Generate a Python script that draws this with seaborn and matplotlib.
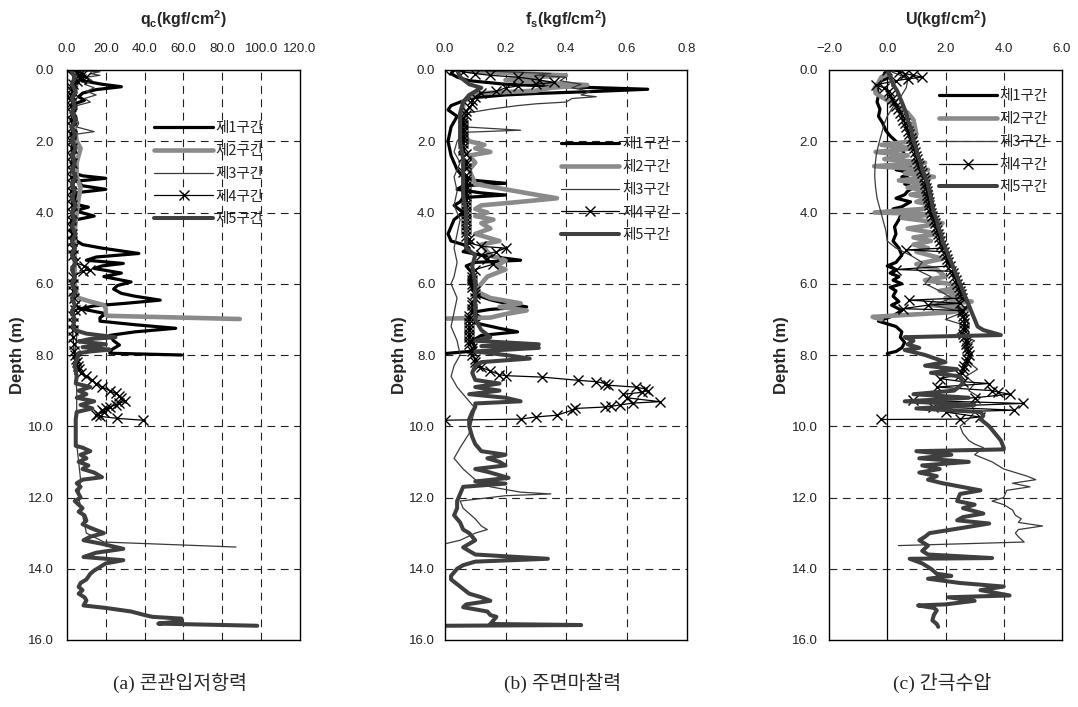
import matplotlib
matplotlib.use("Agg")
import matplotlib.pyplot as plt
from matplotlib.ticker import FuncFormatter, FixedLocator
import pandas as pd
import seaborn as sns

ZONES = ["제1구간", "제2구간", "제3구간", "제4구간", "제5구간"]

# ---------------- cone resistance qc (kgf/cm2): (depth m, value) ----------------
qc_zone1 = [(0.0, 0.5), (0.1, 3), (0.2, 4), (0.3, 8), (0.4, 18), (0.47, 28), (0.55, 15), (0.65, 8),
            (0.75, 6), (0.85, 9), (0.95, 4), (1.0, 2), (1.1, 4), (1.2, 2), (1.3, 4.5), (1.4, 2),
            (1.5, 4), (1.6, 2), (1.7, 4.5), (1.8, 2), (1.9, 4), (2.0, 2), (2.1, 4), (2.2, 2.5),
            (2.3, 4.5), (2.4, 2), (2.5, 4), (2.6, 2), (2.7, 4), (2.8, 2.5), (2.9, 4), (2.97, 8),
            (3.04, 20), (3.12, 5), (3.25, 8), (3.35, 20), (3.45, 4), (3.6, 5), (3.75, 3), (3.85, 11),
            (3.95, 4), (4.1, 14), (4.2, 5), (4.3, 2), (4.4, 4), (4.5, 2), (4.6, 4.5), (4.7, 2),
            (4.8, 5), (4.9, 8), (5.0, 18), (5.15, 37), (5.25, 15), (5.34, 10), (5.43, 29), (5.5, 18),
            (5.57, 14), (5.7, 28), (5.8, 19), (5.95, 33), (6.05, 26), (6.15, 24), (6.27, 28),
            (6.35, 35), (6.46, 48), (6.55, 30), (6.62, 14), (6.7, 7), (6.84, 20), (6.95, 17),
            (7.05, 17), (7.15, 35), (7.25, 56), (7.35, 35), (7.45, 22), (7.6, 24), (7.72, 27),
            (7.85, 23), (7.95, 22), (8.0, 59)]
qc_zone2 = [(0.0, 2), (0.1, 8), (0.2, 5), (0.3, 6), (0.5, 4), (0.8, 3), (1.2, 3.5), (1.6, 4),
            (2.0, 5), (2.2, 7), (2.4, 6), (2.6, 5), (3.0, 5), (3.3, 7), (3.6, 6), (4.0, 5), (4.5, 4),
            (5.0, 4), (5.5, 4), (6.0, 4), (6.3, 5), (6.4, 6), (6.5, 12), (6.6, 19), (6.7, 20),
            (6.85, 20), (6.9, 21), (6.99, 89)]
qc_zone3 = [(0.0, 1), (0.05, 17), (0.1, 12), (0.15, 17), (0.2, 10), (0.3, 13), (0.4, 9), (0.5, 14),
            (0.6, 10), (0.7, 15), (0.8, 9), (0.9, 12), (1.0, 5), (1.2, 4), (1.5, 6), (1.6, 5),
            (1.73, 14), (1.8, 5), (2.0, 4), (2.5, 4), (3.0, 3.5), (3.5, 4), (4.0, 3), (4.5, 3.5),
            (5.0, 3), (5.5, 4), (6.0, 3), (6.5, 4), (7.0, 3.5), (7.5, 5), (8.0, 4), (8.5, 4.5),
            (9.0, 5), (9.5, 5), (10.0, 4), (10.5, 5), (11.0, 6), (11.5, 7), (12.0, 6), (12.5, 8),
            (13.0, 10), (13.25, 19), (13.39, 87)]
qc_zone4 = [(0.0, 0), (0.05, 5), (0.1, 8), (0.15, 6), (0.2, 10), (0.25, 7), (0.3, 5), (0.4, 3),
            (0.5, 2.5), (0.6, 2.5), (0.7, 2), (0.8, 2), (0.9, 2.5), (1.0, 2), (1.2, 2.5), (1.4, 2),
            (1.6, 2.5), (1.8, 2), (2.0, 2), (2.2, 2.5), (2.4, 2), (2.6, 2.5), (2.8, 2), (3.0, 2),
            (3.2, 2.5), (3.4, 2), (3.6, 2), (3.8, 2.5), (4.0, 2.5), (4.2, 2), (4.4, 2), (4.6, 2.5),
            (4.8, 2.5), (5.0, 3), (5.2, 3), (5.4, 4), (5.5, 9), (5.6, 12), (5.65, 8), (5.8, 3),
            (6.0, 3), (6.2, 3), (6.4, 3.5), (6.6, 4), (6.7, 7), (6.75, 4), (6.9, 3), (7.1, 3),
            (7.3, 3), (7.5, 3), (7.7, 3.5), (7.9, 3.5), (8.0, 4), (8.1, 4.5), (8.2, 5), (8.3, 5.5),
            (8.4, 6), (8.5, 7), (8.6, 10), (8.7, 13), (8.8, 15), (8.9, 18), (9.0, 22), (9.08, 25),
            (9.15, 27), (9.2, 28), (9.3, 30), (9.35, 27), (9.4, 25), (9.46, 22), (9.5, 20),
            (9.55, 18), (9.6, 19), (9.65, 16), (9.69, 15), (9.72, 17), (9.78, 26), (9.83, 39)]
qc_zone5 = [(0.0, 2), (0.2, 4), (0.4, 2.5), (0.6, 4.5), (0.8, 2.5), (1.0, 4), (1.2, 2.5), (1.4, 4.5),
            (1.6, 2.5), (1.8, 4), (2.0, 2.5), (2.2, 4.5), (2.4, 2.5), (2.6, 4), (2.8, 2.5), (3.0, 4.5),
            (3.2, 2.5), (3.4, 4), (3.6, 2.5), (3.8, 4.5), (4.0, 2.5), (4.2, 4), (4.4, 2.5), (4.6, 4.5),
            (4.8, 2.5), (5.0, 4), (5.2, 2.5), (5.4, 4.5), (5.6, 2.5), (5.8, 4), (6.0, 2.5), (6.2, 4.5),
            (6.4, 2.5), (6.6, 4), (6.8, 2.5), (7.0, 4), (7.2, 3), (7.3, 4), (7.4, 10), (7.5, 25),
            (7.55, 12), (7.62, 6), (7.7, 20), (7.78, 8), (7.85, 22), (7.9, 12), (7.95, 6), (8.1, 5),
            (8.3, 4), (8.6, 5), (8.8, 4.5), (8.9, 12), (9.0, 6), (9.1, 10), (9.2, 5), (9.3, 14),
            (9.4, 7), (9.5, 13), (9.6, 5), (9.8, 4.5), (10.0, 4.5), (10.3, 4.5), (10.55, 4.5),
            (10.6, 8), (10.7, 12), (10.8, 7), (10.9, 10), (11.0, 6), (11.1, 11), (11.2, 8),
            (11.3, 14), (11.43, 18), (11.5, 8), (11.6, 5), (11.7, 7), (11.8, 5), (12.0, 7),
            (12.1, 4), (12.2, 6), (12.3, 8), (12.4, 6), (12.5, 9), (12.65, 10), (12.75, 8),
            (12.85, 12), (13.0, 19), (13.1, 12), (13.2, 8.5), (13.3, 18), (13.44, 29), (13.55, 15),
            (13.67, 8.5), (13.76, 29), (13.85, 20), (13.95, 17), (14.05, 14), (14.14, 12),
            (14.3, 10), (14.4, 7), (14.51, 6), (14.6, 8), (14.7, 6), (14.8, 9), (14.89, 10),
            (15.03, 8.5), (15.1, 20), (15.2, 33), (15.3, 40), (15.35, 44), (15.4, 59), (15.47, 59),
            (15.54, 47), (15.6, 98)]

# ---------------- sleeve friction fs (kgf/cm2) ----------------
fs_zone1 = [(0.0, 0.03), (0.1, 0.02), (0.2, 0.04), (0.3, 0.08), (0.4, 0.2), (0.47, 0.4), (0.54, 0.67),
            (0.6, 0.5), (0.66, 0.3), (0.7, 0.2), (0.78, 0.09), (0.9, 0.05), (1.0, 0.02), (1.12, 0.01),
            (1.3, 0.04), (1.6, 0.02), (2.0, 0.01), (2.4, 0.02), (2.8, 0.04), (3.0, 0.06), (3.1, 0.1),
            (3.18, 0.2), (3.25, 0.06), (3.35, 0.04), (3.45, 0.12), (3.51, 0.2), (3.58, 0.06),
            (3.7, 0.05), (3.8, 0.03), (4.0, 0.06), (4.2, 0.03), (4.4, 0.02), (4.6, 0.01), (4.8, 0.02),
            (4.9, 0.06), (5.0, 0.08), (5.1, 0.06), (5.2, 0.12), (5.34, 0.25), (5.4, 0.1), (5.5, 0.07),
            (5.7, 0.09), (5.9, 0.08), (6.1, 0.09), (6.3, 0.1), (6.45, 0.15), (6.55, 0.2), (6.65, 0.27),
            (6.72, 0.15), (6.8, 0.09), (6.95, 0.12), (7.1, 0.1), (7.25, 0.18), (7.35, 0.24),
            (7.45, 0.12), (7.6, 0.09), (7.8, 0.1), (7.9, 0.08), (7.96, 0.0)]
fs_zone2 = [(0.0, 0.05), (0.05, 0.1), (0.1, 0.25), (0.15, 0.4), (0.2, 0.3), (0.28, 0.2), (0.35, 0.3),
            (0.42, 0.47), (0.5, 0.35), (0.58, 0.3), (0.65, 0.12), (0.75, 0.08), (0.9, 0.06),
            (1.2, 0.06), (1.5, 0.07), (1.8, 0.06), (2.0, 0.08), (2.1, 0.13), (2.2, 0.1), (2.3, 0.15),
            (2.4, 0.08), (2.6, 0.1), (2.8, 0.08), (3.0, 0.09), (3.2, 0.1), (3.35, 0.2), (3.5, 0.3),
            (3.6, 0.37), (3.7, 0.25), (3.8, 0.12), (3.9, 0.1), (4.0, 0.14), (4.1, 0.1), (4.2, 0.16),
            (4.3, 0.12), (4.45, 0.15), (4.6, 0.1), (4.8, 0.18), (4.9, 0.12), (5.0, 0.13), (5.2, 0.15),
            (5.35, 0.2), (5.5, 0.17), (5.6, 0.2), (5.8, 0.14), (6.0, 0.12), (6.2, 0.1), (6.4, 0.15),
            (6.55, 0.25), (6.65, 0.18), (6.75, 0.27), (6.85, 0.2), (6.95, 0.15), (6.98, 0.0)]
fs_zone3 = [(0.0, 0.05), (0.05, 0.2), (0.1, 0.35), (0.15, 0.3), (0.2, 0.4), (0.3, 0.38), (0.4, 0.45),
            (0.5, 0.42), (0.6, 0.48), (0.7, 0.45), (0.75, 0.5), (0.8, 0.42), (0.9, 0.4), (0.95, 0.3),
            (1.0, 0.24), (1.1, 0.15), (1.2, 0.08), (1.4, 0.06), (1.6, 0.07), (1.69, 0.25), (1.75, 0.06),
            (2.0, 0.04), (2.3, 0.03), (2.6, 0.05), (3.0, 0.03), (3.4, 0.04), (3.8, 0.03), (4.2, 0.05),
            (4.6, 0.04), (5.0, 0.03), (5.4, 0.04), (5.8, 0.03), (6.0, 0.02), (6.4, 0.04), (6.8, 0.03),
            (7.2, 0.02), (7.6, 0.04), (8.0, 0.05), (8.3, 0.03), (8.6, 0.02), (8.9, 0.04), (9.2, 0.07),
            (9.5, 0.1), (9.8, 0.09), (10.2, 0.08), (10.6, 0.05), (10.9, 0.03), (11.2, 0.06),
            (11.5, 0.1), (11.7, 0.15), (11.85, 0.25), (11.9, 0.35), (11.95, 0.2), (12.1, 0.05),
            (12.3, 0.06), (12.6, 0.1), (12.8, 0.12), (12.9, 0.14), (13.0, 0.1), (13.2, 0.05),
            (13.3, 0.0)]
fs_zone4 = [(0.0, 0.0), (0.05, 0.06), (0.1, 0.1), (0.15, 0.15), (0.2, 0.24), (0.28, 0.31), (0.35, 0.36),
            (0.4, 0.3), (0.45, 0.24), (0.5, 0.2), (0.6, 0.17), (0.65, 0.12), (0.75, 0.1), (0.85, 0.09),
            (0.95, 0.09), (1.05, 0.08), (1.15, 0.07), (1.25, 0.07), (1.35, 0.06), (1.45, 0.06),
            (1.55, 0.06), (1.65, 0.06), (1.75, 0.06), (1.85, 0.06), (1.95, 0.06), (2.05, 0.06),
            (2.15, 0.06), (2.25, 0.06), (2.35, 0.07), (2.45, 0.06), (2.55, 0.07), (2.65, 0.07),
            (2.75, 0.07), (2.85, 0.06), (2.95, 0.07), (3.05, 0.07), (3.15, 0.07), (3.25, 0.07),
            (3.35, 0.07), (3.45, 0.07), (3.55, 0.07), (3.65, 0.07), (3.75, 0.07), (3.85, 0.07),
            (3.95, 0.07), (4.05, 0.07), (4.15, 0.07), (4.25, 0.07), (4.35, 0.07), (4.45, 0.07),
            (4.55, 0.07), (4.65, 0.07), (4.75, 0.08), (4.85, 0.08), (4.95, 0.12), (5.0, 0.2),
            (5.1, 0.17), (5.2, 0.12), (5.3, 0.14), (5.45, 0.16), (5.6, 0.1), (5.7, 0.09), (5.8, 0.09),
            (5.9, 0.09), (6.0, 0.09), (6.1, 0.09), (6.2, 0.1), (6.3, 0.1), (6.4, 0.1), (6.5, 0.09),
            (6.6, 0.09), (6.7, 0.09), (6.8, 0.09), (6.9, 0.08), (7.0, 0.08), (7.1, 0.08), (7.2, 0.08),
            (7.3, 0.08), (7.4, 0.08), (7.5, 0.08), (7.6, 0.08), (7.7, 0.08), (7.8, 0.09), (7.9, 0.09),
            (8.0, 0.09), (8.1, 0.1), (8.2, 0.1), (8.3, 0.11), (8.35, 0.12), (8.45, 0.15), (8.55, 0.18),
            (8.58, 0.2), (8.62, 0.32), (8.71, 0.44), (8.75, 0.5), (8.8, 0.53), (8.85, 0.54),
            (8.9, 0.63), (8.95, 0.66), (9.0, 0.67), (9.05, 0.65), (9.1, 0.59), (9.2, 0.6),
            (9.31, 0.71), (9.35, 0.62), (9.4, 0.58), (9.44, 0.55), (9.46, 0.53), (9.5, 0.43),
            (9.55, 0.42), (9.69, 0.37), (9.74, 0.3), (9.8, 0.25), (9.83, 0.0)]
fs_zone5 = [(0.0, 0.04), (0.2, 0.05), (0.4, 0.08), (0.5, 0.12), (0.6, 0.1), (0.7, 0.08), (0.9, 0.06),
            (1.2, 0.05), (1.6, 0.05), (2.0, 0.05), (2.5, 0.06), (3.0, 0.06), (3.5, 0.06), (4.0, 0.07),
            (4.5, 0.07), (5.0, 0.07), (5.2, 0.1), (5.5, 0.09), (6.0, 0.1), (6.5, 0.1), (7.0, 0.1),
            (7.3, 0.12), (7.5, 0.15), (7.6, 0.1), (7.7, 0.31), (7.75, 0.12), (7.8, 0.31), (7.9, 0.1),
            (8.0, 0.2), (8.1, 0.28), (8.2, 0.12), (8.3, 0.1), (8.5, 0.09), (8.7, 0.1), (8.8, 0.18),
            (8.9, 0.1), (9.0, 0.18), (9.1, 0.08), (9.2, 0.2), (9.3, 0.25), (9.36, 0.1), (9.46, 0.1),
            (9.6, 0.09), (9.8, 0.08), (10.0, 0.08), (10.3, 0.09), (10.5, 0.1), (10.7, 0.12),
            (10.8, 0.2), (10.9, 0.14), (11.0, 0.18), (11.1, 0.2), (11.2, 0.1), (11.3, 0.15),
            (11.45, 0.21), (11.55, 0.1), (11.61, 0.2), (11.7, 0.06), (11.9, 0.05), (12.1, 0.04),
            (12.3, 0.04), (12.5, 0.03), (12.7, 0.05), (12.9, 0.06), (13.0, 0.08), (13.2, 0.1),
            (13.4, 0.06), (13.6, 0.1), (13.72, 0.34), (13.8, 0.1), (13.9, 0.06), (14.0, 0.04),
            (14.2, 0.02), (14.3, 0.02), (14.5, 0.05), (14.7, 0.08), (14.8, 0.12), (14.9, 0.15),
            (15.0, 0.07), (15.08, 0.06), (15.2, 0.14), (15.3, 0.15), (15.35, 0.17), (15.55, 0.15),
            (15.58, 0.45), (15.6, 0.0)]

# ---------------- pore pressure U (kgf/cm2) ----------------
u_zone1 = [(0.0, 0.0), (0.1, -0.1), (0.2, 0.1), (0.3, -0.2), (0.5, -0.35), (0.7, -0.3), (0.9, -0.35),
           (1.1, -0.25), (1.3, -0.3), (1.5, -0.15), (1.7, -0.05), (1.85, 0.1), (2.0, 0.3), (2.2, 0.5),
           (2.4, 0.6), (2.6, 0.4), (2.7, 0.8), (2.8, 0.3), (2.9, 0.9), (3.0, 0.5), (3.1, 1.0),
           (3.2, 0.6), (3.3, 0.9), (3.4, 0.7), (3.5, 0.6), (3.6, 0.3), (3.7, 0.8), (3.84, 0.5),
           (3.9, 0.2), (4.0, 0.5), (4.2, 0.4), (4.4, 0.25), (4.6, 0.3), (4.8, 0.2), (5.0, 0.4),
           (5.2, 0.5), (5.4, 0.3), (5.5, 0.0), (5.6, 0.3), (5.7, 0.1), (5.8, 0.4), (5.9, 0.2),
           (6.0, 0.5), (6.1, 0.1), (6.2, 0.3), (6.35, 0.2), (6.5, 0.4), (6.6, 0.15), (6.75, 0.5),
           (6.9, 0.2), (7.05, -0.3), (7.2, 0.3), (7.35, 0.5), (7.5, 0.45), (7.65, 0.6), (7.8, 0.5),
           (7.9, 0.3), (7.96, 0.0)]
u_zone2 = [(0.0, 0.0), (0.1, 0.05), (0.2, -0.2), (0.35, -0.3), (0.5, -0.43), (0.65, -0.4), (0.8, -0.1),
           (1.0, 0.3), (1.2, 0.7), (1.4, 0.9), (1.6, 0.95), (1.8, 1.0), (2.0, 0.9), (2.1, -0.2),
           (2.2, 0.9), (2.3, -0.4), (2.4, 0.7), (2.5, -0.1), (2.6, 1.3), (2.7, -0.45), (2.8, 1.4),
           (2.9, 0.6), (3.0, 1.6), (3.1, 0.4), (3.2, 1.4), (3.3, 0.7), (3.4, 1.5), (3.5, 0.8),
           (3.6, 1.5), (3.7, 1.0), (3.8, 1.6), (3.9, 1.2), (4.0, -0.43), (4.05, 1.6), (4.15, 0.5),
           (4.3, 1.9), (4.45, 0.7), (4.6, 1.8), (4.7, 0.9), (4.8, 1.5), (4.9, 0.9), (5.0, 1.4),
           (5.1, 1.0), (5.3, 1.9), (5.45, 1.0), (5.6, 1.7), (5.8, 2.0), (5.9, 1.3), (6.0, 2.1),
           (6.1, 2.5), (6.2, 1.8), (6.3, 2.6), (6.4, 2.0), (6.5, 2.9), (6.6, 1.5), (6.7, 2.8),
           (6.8, 2.2), (6.93, -0.5), (7.0, -0.2)]
u_zone3 = [(0.0, 0.0), (0.1, 0.3), (0.2, 0.6), (0.3, 0.7), (0.5, 0.65), (0.7, 0.5), (0.9, 0.3),
           (1.1, 0.15), (1.3, 0.0), (1.5, -0.1), (1.8, -0.2), (2.1, -0.3), (2.4, -0.38), (2.7, -0.42),
           (3.0, -0.43), (3.3, -0.4), (3.6, -0.35), (3.9, -0.25), (4.2, -0.15), (4.5, -0.05),
           (4.8, 0.0), (5.0, 0.3), (5.2, 0.8), (5.4, 1.2), (5.6, 1.0), (5.8, 1.5), (6.0, 1.3),
           (6.2, 1.8), (6.4, 2.2), (6.6, 1.6), (6.8, 2.6), (7.0, 2.0), (7.2, 2.8), (7.4, 2.4),
           (7.6, 3.0), (7.8, 2.6), (8.0, 2.9), (8.2, 2.8), (8.4, 3.1), (8.6, 2.7), (8.8, 3.0),
           (9.0, 2.8), (9.2, 3.2), (9.4, 2.9), (9.6, 3.0), (9.8, 2.8), (10.0, 2.5), (10.2, 2.6),
           (10.4, 2.8), (10.5, 3.0), (10.6, 3.3), (10.8, 3.0), (11.0, 3.6), (11.2, 4.0), (11.3, 4.4),
           (11.4, 4.8), (11.5, 5.1), (11.6, 4.3), (11.7, 4.9), (11.8, 4.1), (12.0, 4.0), (12.1, 3.6),
           (12.2, 4.0), (12.35, 4.3), (12.5, 4.4), (12.6, 4.6), (12.7, 4.5), (12.8, 5.33),
           (12.9, 4.5), (13.0, 4.4), (13.1, 4.5), (13.25, 4.7), (13.35, 0.38)]
u_zone4 = [(0.0, 0.0), (0.05, 0.4), (0.1, 0.6), (0.15, 0.9), (0.2, 1.2), (0.25, 0.7), (0.3, 0.3),
           (0.42, -0.4), (0.5, -0.1), (0.6, 0.05), (0.7, 0.1), (0.8, 0.15), (0.9, 0.22), (1.0, 0.3),
           (1.1, 0.38), (1.2, 0.45), (1.3, 0.5), (1.4, 0.55), (1.5, 0.6), (1.6, 0.65), (1.7, 0.7),
           (1.8, 0.75), (1.9, 0.8), (2.0, 0.85), (2.1, 0.88), (2.2, 0.92), (2.3, 0.96), (2.4, 1.0),
           (2.5, 1.02), (2.6, 1.05), (2.7, 1.1), (2.8, 1.15), (2.9, 1.2), (3.0, 1.27), (3.1, 1.28),
           (3.2, 1.3), (3.3, 1.32), (3.4, 1.35), (3.5, 1.38), (3.6, 1.4), (3.7, 1.42), (3.8, 1.45),
           (3.9, 1.48), (4.0, 1.5), (4.1, 1.55), (4.2, 1.6), (4.3, 1.64), (4.4, 1.68), (4.5, 1.72),
           (4.6, 1.75), (4.7, 1.78), (4.8, 1.8), (4.9, 1.85), (5.0, 1.9), (5.05, 0.65), (5.1, 1.95),
           (5.2, 2.0), (5.3, 2.05), (5.4, 2.1), (5.5, 2.15), (5.6, 0.3), (5.65, 2.2), (5.7, 2.25),
           (5.8, 2.3), (5.9, 2.35), (6.0, 2.4), (6.1, 2.45), (6.2, 2.5), (6.3, 2.52), (6.4, 2.55),
           (6.46, 0.76), (6.55, 2.5), (6.6, 1.4), (6.7, 0.53), (6.75, 2.55), (6.8, 2.58), (6.9, 2.6),
           (7.0, 2.65), (7.1, 2.65), (7.2, 2.65), (7.3, 2.62), (7.4, 2.6), (7.5, 2.65), (7.6, 2.7),
           (7.7, 2.72), (7.8, 2.75), (7.9, 2.78), (8.0, 2.8), (8.1, 2.75), (8.2, 2.7), (8.3, 2.65),
           (8.4, 2.6), (8.5, 2.55), (8.55, 2.5), (8.66, 1.8), (8.75, 2.6), (8.8, 3.5), (8.9, 1.7),
           (9.0, 3.6), (9.04, 3.8), (9.1, 4.2), (9.2, 3.0), (9.27, 0.9), (9.36, 4.65), (9.45, 1.57),
           (9.55, 4.36), (9.6, 2.0), (9.74, 3.17), (9.8, 2.5), (9.81, -0.2)]
u_zone5 = [(0.0, 0.0), (0.2, 0.1), (0.4, 0.2), (0.6, 0.35), (0.8, 0.45), (1.0, 0.55), (1.2, 0.65),
           (1.4, 0.7), (1.6, 0.8), (1.8, 0.85), (2.0, 0.9), (2.2, 1.0), (2.4, 1.05), (2.6, 1.15),
           (2.8, 1.2), (3.0, 1.3), (3.2, 1.4), (3.4, 1.45), (3.6, 1.5), (3.8, 1.55), (4.0, 1.6),
           (4.2, 1.7), (4.4, 1.75), (4.6, 1.85), (4.8, 1.9), (5.0, 2.0), (5.2, 2.1), (5.4, 2.2),
           (5.6, 2.3), (5.8, 2.4), (6.0, 2.5), (6.2, 2.6), (6.4, 2.7), (6.6, 2.8), (6.8, 2.9),
           (7.0, 3.0), (7.2, 3.1), (7.3, 3.3), (7.44, 3.9), (7.5, 0.6), (7.6, 0.9), (7.7, 0.7),
           (7.8, 1.1), (7.86, 0.6), (8.0, 1.3), (8.2, 2.0), (8.3, 1.3), (8.4, 2.4), (8.5, 1.5),
           (8.6, 2.5), (8.8, 2.6), (9.0, 2.3), (9.1, 0.9), (9.2, 2.8), (9.3, 0.6), (9.4, 3.0),
           (9.5, 1.0), (9.6, 3.2), (9.7, 3.3), (9.8, 3.2), (10.0, 3.5), (10.2, 3.7), (10.4, 3.9),
           (10.6, 4.0), (10.65, 4.0), (10.7, 1.0), (10.8, 2.2), (10.9, 1.1), (11.0, 2.8), (11.1, 1.2),
           (11.2, 1.8), (11.3, 1.1), (11.4, 1.7), (11.5, 1.4), (11.6, 1.9), (11.8, 3.2), (11.9, 2.5),
           (12.1, 2.4), (12.2, 3.0), (12.3, 2.6), (12.45, 3.3), (12.55, 2.6), (12.64, 2.4),
           (12.73, 3.5), (12.85, 2.6), (13.0, 1.45), (13.1, 1.3), (13.2, 1.1), (13.35, 1.4),
           (13.5, 1.2), (13.6, 1.4), (13.7, 3.6), (13.72, 0.77), (13.85, 1.2), (14.0, 1.5),
           (14.14, 1.7), (14.2, 2.2), (14.28, 1.4), (14.4, 2.5), (14.5, 4.0), (14.6, 3.2),
           (14.75, 4.2), (14.8, 2.1), (14.9, 3.0), (15.0, 2.0), (15.03, 1.06), (15.1, 1.6),
           (15.17, 1.7), (15.3, 1.6), (15.45, 1.55), (15.55, 1.7), (15.63, 1.75)]

QC_SERIES = [qc_zone1, qc_zone2, qc_zone3, qc_zone4, qc_zone5]
FS_SERIES = [fs_zone1, fs_zone2, fs_zone3, fs_zone4, fs_zone5]
U_SERIES = [u_zone1, u_zone2, u_zone3, u_zone4, u_zone5]

QC_TICKS = [0, 20, 40, 60, 80, 100, 120]
FS_TICKS = [0.0, 0.2, 0.4, 0.6, 0.8]
U_TICKS = [-2, 0, 2, 4, 6]
DEPTH_TICKS = [0, 2, 4, 6, 8, 10, 12, 14, 16]

CAPTIONS = ["(a) 콘관입저항력", "(b) 주면마찰력", "(c) 간극수압"]

STYLES = [
    dict(color="black", linewidth=2.3),
    dict(color="#8a8a8a", linewidth=3.3),
    dict(color="#3a3a3a", linewidth=0.9),
    dict(color="black", linewidth=0.9, marker="x", markersize=6.5,
         markeredgewidth=1.0, markeredgecolor="black"),
    dict(color="#3f3f3f", linewidth=2.9),
]

sns.set_theme(style="white")
plt.rcParams["font.family"] = ["Liberation Sans", "Noto Sans CJK KR", "DejaVu Sans"]
plt.rcParams["mathtext.fontset"] = "custom"
plt.rcParams["mathtext.rm"] = "Liberation Sans"
plt.rcParams["mathtext.bf"] = "Liberation Sans:bold"
plt.rcParams["axes.unicode_minus"] = True

fig = plt.figure(figsize=(10.78, 7.07), dpi=100)

W, H = 1078.0, 707.0
TOP, BOTTOM = 70.0, 640.0
panels = [
    dict(left=67, right=300, series=QC_SERIES, ticks=QC_TICKS, xlim=(0, 120),
         grid=[20, 40, 60, 80, 100], zero=None,
         label=r"q$_\mathbf{c}$(kgf/cm$^\mathbf{2}$)", leg=(0.375, 0.91), ypad=9.5),
    dict(left=445, right=687, series=FS_SERIES, ticks=FS_TICKS, xlim=(0, 0.8),
         grid=[0.2, 0.4, 0.6], zero=None,
         label=r"f$_\mathbf{s}$(kgf/cm$^\mathbf{2}$)", leg=(0.48, 0.882), ypad=7),
    dict(left=829, right=1062, series=U_SERIES, ticks=U_TICKS, xlim=(-2, 6),
         grid=[2, 4], zero=0,
         label=r"U(kgf/cm$^\mathbf{2}$)", leg=(0.47, 0.966), ypad=8),
]

def fmt(v, _pos):
    return f"{v:.1f}".replace("-", "\u2212")

for p, caption in zip(panels, CAPTIONS):
    ax = fig.add_axes([p["left"] / W, 1 - BOTTOM / H, (p["right"] - p["left"]) / W, (BOTTOM - TOP) / H])
    ax.set_facecolor("white")

    for gx in p["grid"]:
        ax.axvline(gx, color="#202020", lw=0.8, ls=(0, (7, 5)), zorder=0.5)
    for gy in DEPTH_TICKS[1:-1]:
        ax.axhline(gy, color="#202020", lw=0.8, ls=(0, (7, 5)), zorder=0.5)
    if p["zero"] is not None:
        ax.axvline(p["zero"], color="black", lw=0.9, zorder=0.6)

    for zone, pts, style in zip(ZONES, p["series"], STYLES):
        df = pd.DataFrame(pts, columns=["depth", "value"])
        sns.lineplot(data=df, x="value", y="depth", ax=ax, sort=False, estimator=None,
                     orient="y", label=zone, **style)

    ax.set_xlim(*p["xlim"])
    ax.set_ylim(16, 0)
    ax.xaxis.set_major_locator(FixedLocator(p["ticks"]))
    ax.yaxis.set_major_locator(FixedLocator(DEPTH_TICKS))
    ax.xaxis.set_major_formatter(FuncFormatter(fmt))
    ax.yaxis.set_major_formatter(FuncFormatter(fmt))
    ax.xaxis.tick_top()
    ax.xaxis.set_label_position("top")
    ax.tick_params(axis="x", length=0, pad=11, labelsize=9.5, colors="#222222")
    ax.tick_params(axis="y", length=0, pad=p["ypad"], labelsize=9.5, colors="#222222")
    ax.set_xlabel(p["label"], fontsize=11.5, fontweight="bold", labelpad=13)
    ax.set_ylabel("Depth (m)", fontsize=12, fontweight="bold", labelpad=2)

    for side in ["top", "bottom", "left", "right"]:
        ax.spines[side].set_visible(True)
        ax.spines[side].set_color("black")
        ax.spines[side].set_linewidth(1.0)

    handles, labels = ax.get_legend_handles_labels()
    ax.legend(handles, labels, loc="upper left", bbox_to_anchor=p["leg"], frameon=False,
              handlelength=4.0, handletextpad=0.2, labelspacing=0.6,
              borderpad=0, borderaxespad=0,
              prop={"family": ["Noto Sans CJK KR"], "size": 10.5})

    cx = (p["left"] + p["right"]) / 2.0
    fig.text(cx / W - 0.003, 1 - 683 / H, caption, ha="center", va="center", fontsize=14,
             family=["Liberation Serif", "Noto Sans CJK KR"])

fig.savefig("out.png", dpi=100, facecolor="white")
